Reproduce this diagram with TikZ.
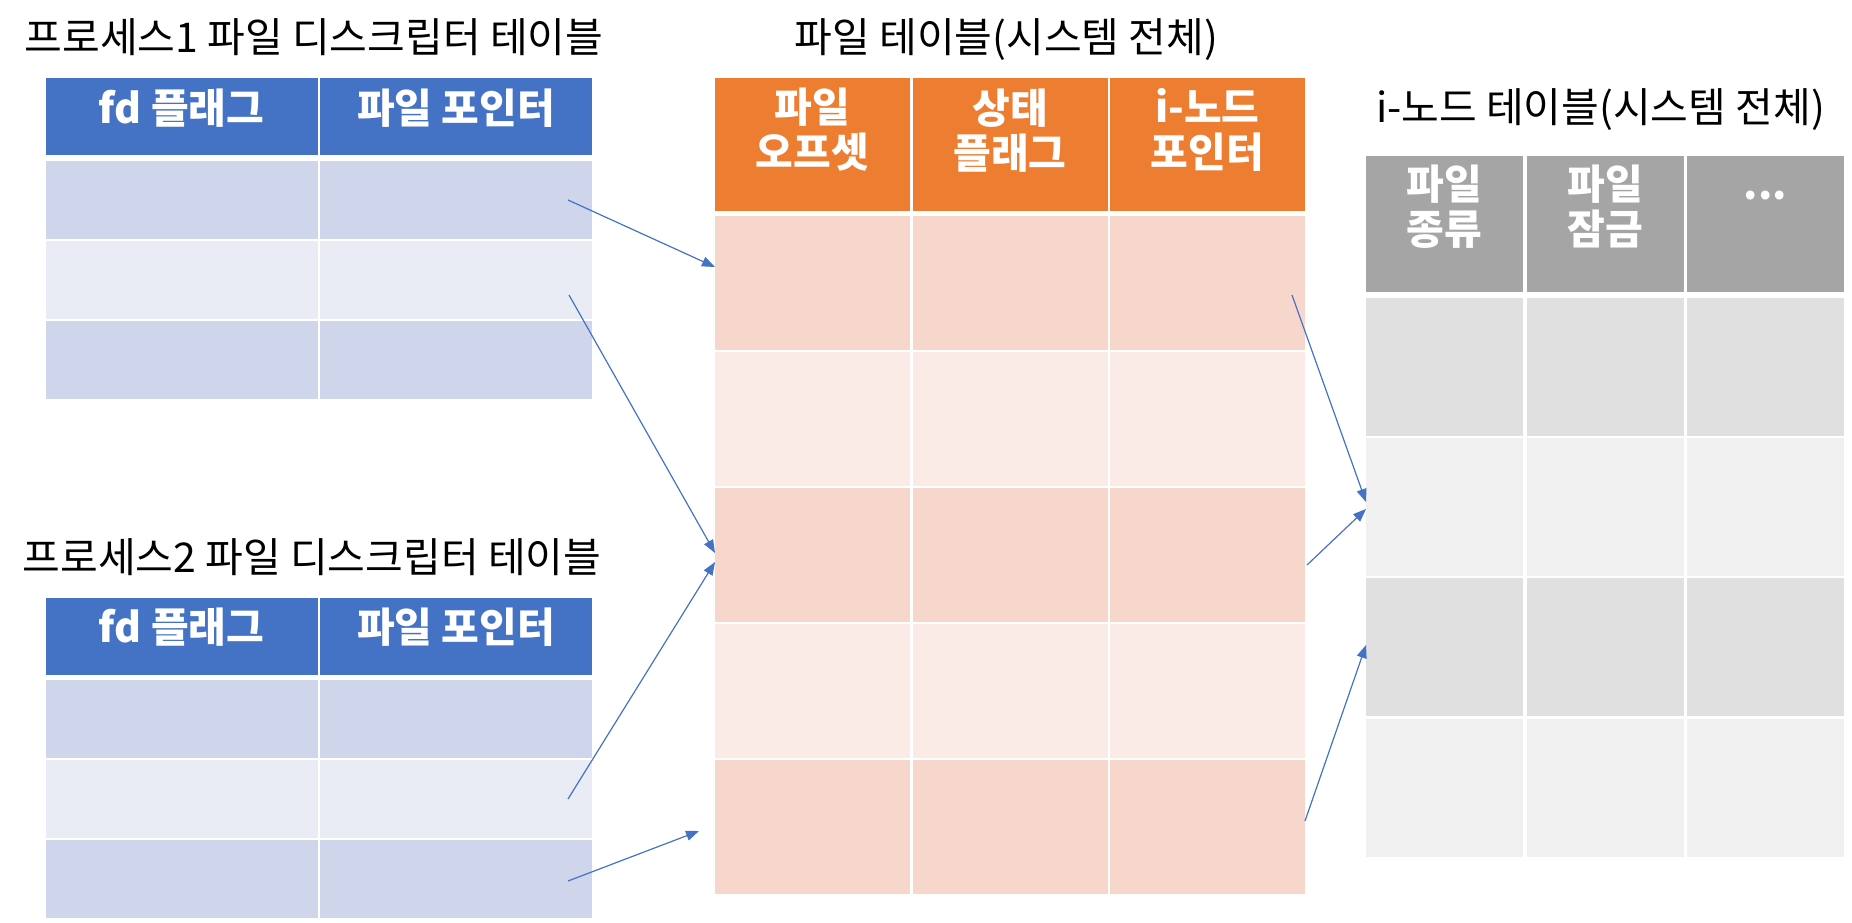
\documentclass[tikz,border=0pt]{standalone}
\usepackage{fontspec}
\setmainfont{Noto Sans CJK KR}
\usepackage{xcolor}
\usepackage{tikz}
\usetikzlibrary{positioning,arrows.meta}
\definecolor{tbblue}{HTML}{4472C4}
\definecolor{tbbluedk}{HTML}{CFD5EA}
\definecolor{tbbluelt}{HTML}{E9EBF5}
\definecolor{tborange}{HTML}{ED7D31}
\definecolor{tborangedk}{HTML}{F7D6CC}
\definecolor{tborangelt}{HTML}{FBEBE7}
\definecolor{tbgray}{HTML}{A5A5A5}
\definecolor{tbgraydk}{HTML}{E0E0E0}
\definecolor{tbgraylt}{HTML}{F0F0F0}

\tikzset{
  cell/.style={inner sep=0pt, outer sep=0pt},
  fdcell/.style={cell, minimum width=136pt, minimum height=39pt},
  fdhead/.style={fdcell, fill=tbblue, minimum height=38.5pt},
  fddark/.style={fdcell, fill=tbbluedk},
  fdlight/.style={fdcell, fill=tbbluelt},
  ftcell/.style={cell, minimum width=97.5pt, minimum height=67pt},
  fthead/.style={ftcell, fill=tborange, minimum height=66.5pt},
  ftdark/.style={ftcell, fill=tborangedk},
  ftlight/.style={ftcell, fill=tborangelt},
  itcell/.style={cell, minimum width=78.5pt, minimum height=69pt},
  ithead/.style={itcell, fill=tbgray, minimum height=68pt},
  itdark/.style={itcell, fill=tbgraydk},
  itlight/.style={itcell, fill=tbgraylt},
  ttl/.style={inner sep=0pt, anchor=base, font=\fontsize{20.5}{22.5}\selectfont},
  hdtxt/.style={inner sep=0pt, text=white, align=center, font=\fontsize{20.5}{22.5}\selectfont\bfseries},
  ptr/.style={draw=tbblue, line width=0.6pt, -{Triangle[length=6.5pt,width=5pt]}}
}

\begin{document}
\begin{tikzpicture}[x=0.5pt, y=-0.5pt]
  \useasboundingbox (0,0) rectangle (1852,922);

  \node[ttl] (p1ttl) at (314,52) {프로세스1 파일 디스크립터 테이블};
  \node[fdhead] (p1hd1) at (181.5,116.5) {};
  \node[fdhead] (p1hd2) at (456,116.5) {};
  \node[hdtxt, below=5pt of p1hd1.north] {fd 플래그};
  \node[hdtxt, below=5pt of p1hd2.north] {파일 포인터};
  \node[fddark] (p1r1c1) at (181.5,200) {};
  \node[fddark] (p1r1c2) at (456,200) {};
  \node[fdlight] (p1r2c1) at (181.5,280) {};
  \node[fdlight] (p1r2c2) at (456,280) {};
  \node[fddark] (p1r3c1) at (181.5,360) {};
  \node[fddark] (p1r3c2) at (456,360) {};

  \node[ttl] (p2ttl) at (312,572) {프로세스2 파일 디스크립터 테이블};
  \node[fdhead] (p2hd1) at (181.5,636) {};
  \node[fdhead] (p2hd2) at (456,636) {};
  \node[hdtxt, below=5pt of p2hd1.north] {fd 플래그};
  \node[hdtxt, below=5pt of p2hd2.north] {파일 포인터};
  \node[fddark] (p2r1c1) at (181.5,719) {};
  \node[fddark] (p2r1c2) at (456,719) {};
  \node[fdlight] (p2r2c1) at (181.5,799) {};
  \node[fdlight] (p2r2c2) at (456,799) {};
  \node[fddark] (p2r3c1) at (181.5,879) {};
  \node[fddark] (p2r3c2) at (456,879) {};

  \node[ttl] (ftttl) at (1006.5,52) {파일 테이블(시스템 전체)};
  \node[fthead] (fthd1) at (812.5,144.5) {};
  \node[fthead] (fthd2) at (1010,144.5) {};
  \node[fthead] (fthd3) at (1207.5,144.5) {};
  \node[hdtxt, below=5pt of fthd1.north] {파일\\오프셋};
  \node[hdtxt, below=5pt of fthd2.north] {상태\\플래그};
  \node[hdtxt, below=5pt of fthd3.north] {i-노드\\포인터};
  \node[ftdark] (ftr1c1) at (812.5,283) {};
  \node[ftdark] (ftr1c2) at (1010,283) {};
  \node[ftdark] (ftr1c3) at (1207.5,283) {};
  \node[ftlight] (ftr2c1) at (812.5,419) {};
  \node[ftlight] (ftr2c2) at (1010,419) {};
  \node[ftlight] (ftr2c3) at (1207.5,419) {};
  \node[ftdark] (ftr3c1) at (812.5,555) {};
  \node[ftdark] (ftr3c2) at (1010,555) {};
  \node[ftdark] (ftr3c3) at (1207.5,555) {};
  \node[ftlight] (ftr4c1) at (812.5,691) {};
  \node[ftlight] (ftr4c2) at (1010,691) {};
  \node[ftlight] (ftr4c3) at (1207.5,691) {};
  \node[ftdark] (ftr5c1) at (812.5,827) {};
  \node[ftdark] (ftr5c2) at (1010,827) {};
  \node[ftdark] (ftr5c3) at (1207.5,827) {};

  \node[ttl] (itttl) at (1600.5,122) {i-노드 테이블(시스템 전체)};
  \node[ithead] (ithd1) at (1444.5,224) {};
  \node[ithead] (ithd2) at (1605,224) {};
  \node[ithead] (ithd3) at (1765.5,224) {};
  \node[hdtxt, below=4.5pt of ithd1.north] {파일\\종류};
  \node[hdtxt, below=4.5pt of ithd2.north] {파일\\잠금};
  \node[hdtxt, below=4.5pt of ithd3.north] {\vphantom{파일}...};
  \node[itdark] (itr1c1) at (1444.5,367) {};
  \node[itdark] (itr1c2) at (1605,367) {};
  \node[itdark] (itr1c3) at (1765.5,367) {};
  \node[itlight] (itr2c1) at (1444.5,507) {};
  \node[itlight] (itr2c2) at (1605,507) {};
  \node[itlight] (itr2c3) at (1765.5,507) {};
  \node[itdark] (itr3c1) at (1444.5,647) {};
  \node[itdark] (itr3c2) at (1605,647) {};
  \node[itdark] (itr3c3) at (1765.5,647) {};
  \node[itlight] (itr4c1) at (1444.5,788) {};
  \node[itlight] (itr4c2) at (1605,788) {};
  \node[itlight] (itr4c3) at (1765.5,788) {};

  \draw[ptr] ([xshift=-12pt]p1r1c2.east) -- ([yshift=8pt]ftr1c1.west);
  \draw[ptr] ([xshift=-11.5pt, yshift=-7.5pt]p1r2c2.east) -- ([yshift=1pt]ftr3c1.west);
  \draw[ptr] ([xshift=-12pt]p2r2c2.east) -- ([yshift=-3.5pt]ftr3c1.west);
  \draw[ptr] ([xshift=-12pt, yshift=-1pt]p2r3c2.east) -- ([xshift=-8pt, yshift=-2pt]ftr5c1.west);
  \draw[ptr] ([xshift=-6.5pt, yshift=-6pt]ftr1c3.east) -- ([yshift=2.5pt]itr2c1.west);
  \draw[ptr] ([xshift=1pt, yshift=-5pt]ftr3c3.east) -- ([yshift=-1pt]itr2c1.west);
  \draw[ptr] ([yshift=3pt]ftr5c3.east) -- ([yshift=1pt]itr3c1.west);
\end{tikzpicture}
\end{document}
